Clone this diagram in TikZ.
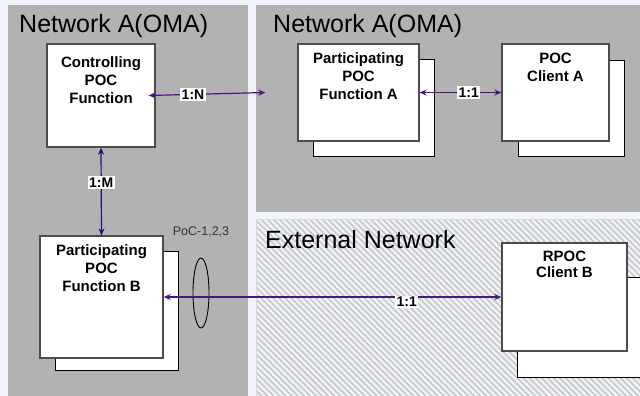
\documentclass[tikz,border=0pt]{standalone}
\usepackage{fontspec}
\setmainfont{Liberation Sans}
\usetikzlibrary{arrows.meta,positioning,shapes.geometric,patterns.meta}
\definecolor{panelgray}{RGB}{178,178,178}
\definecolor{linkpurple}{RGB}{75,20,130}
\definecolor{linknavy}{RGB}{15,25,110}
\definecolor{pagetint}{RGB}{240,243,249}

\begin{document}
\begin{tikzpicture}[
  x=1pt, y=-1pt,
  panel/.style={fill=panelgray},
  extpanel/.style={fill=white, draw=black!15,
                   pattern={Lines[angle=-45,distance=4.3pt,line width=1.6pt]},
                   pattern color=black!22},
  net/.style={font=\fontsize{25}{30}\selectfont, anchor=base west,
              inner sep=0},
  box/.style={draw=black!70, line width=1.3pt, fill=white, inner sep=0},
  backbox/.style={draw=black, line width=0.9pt, fill=white, inner sep=0},
  lbl/.style={font=\bfseries\fontsize{15}{18}\selectfont, align=center,
              inner sep=0, anchor=north},
  ratio/.style={font=\bfseries\fontsize{14}{16}\selectfont, fill=white,
                text=black, inner sep=1.5pt},
  iface/.style={font=\fontsize{12.5}{14}\selectfont, text=black!80,
                inner sep=0},
  arr/.style={{Stealth[length=7pt,width=6pt]}-{Stealth[length=7pt,width=6pt]},
              line width=1.2pt, linkpurple},
  varr/.style={arr, linknavy}]

\useasboundingbox (0,0) rectangle (640,396);
\clip (0,0) rectangle (640,396);

% panels
\fill[pagetint] (0,0) rectangle (640,396);
\path[panel] (8,5) rectangle (248,396);
\path[panel] (256,5) rectangle (640,212);
\path[extpanel] (256,219) rectangle (641,397);

\node[net] (neta) at (19,33)  {Network A(OMA)};
\node[net] (netb) at (273,33) {Network A(OMA)};
\node[net] (ext)  at (265,248) {External Network};

% controlling function
\node[box, minimum width=108, minimum height=103] (cpf) at (101,95.5) {};
\node[lbl, below=13pt of cpf.north] (cpft) {Controlling\\POC\\Function};

% participating function A and client A
\node[backbox, minimum width=121, minimum height=97] (pfab) at (373.5,107.5) {};
\node[box, minimum width=121, minimum height=97] (pfa) at (358.5,92.5) {};
\node[lbl, below=9pt of pfa.north] (pfat) {Participating\\POC\\Function A};

\node[backbox, minimum width=106, minimum height=96] (pcab) at (571,108) {};
\node[box, minimum width=107, minimum height=97] (pca) at (555.5,92.5) {};
\node[lbl, below=9pt of pca.north] (pcat) {POC\\Client A};

% participating function B
\node[backbox, minimum width=123, minimum height=119] (pfbb) at (116.5,310.5) {};
\node[box, minimum width=123, minimum height=122] (pfb) at (101.5,297) {};
\node[lbl, below=9pt of pfb.north] (pfbt) {Participating\\POC\\Function B};

% remote client B
\node[backbox, minimum width=143, minimum height=100] (rpcb) at (588.5,327) {};
\node[box, minimum width=125, minimum height=108] (rpc) at (564.5,297) {};
\node[lbl, font=\bfseries\fontsize{15}{16}\selectfont,
      below=8pt of rpc.north] (rpct) {RPOC\\Client B};

% interfaces
\node[ellipse, draw, line width=0.9pt, minimum width=16, minimum height=70,
      inner sep=0] (poc) at (201,293) {};
\node[iface, above=20pt of poc] (poct) {PoC-1,2,3};

\draw[arr] ([xshift=-7pt]cpf.east) -- node[ratio, pos=0.38] {1:N}
           ([xshift=-32pt]pfa.west);
\draw[arr] (pfa.east) -- node[ratio, pos=0.6] {1:1} (pca.west);
\draw[varr] (cpf.south) -- node[ratio, pos=0.4] {1:M} (pfb.north);
\draw[arr] (pfb.east) -- node[ratio, pos=0.72, yshift=-5pt] {1:1} (rpc.west);
\end{tikzpicture}
\end{document}
